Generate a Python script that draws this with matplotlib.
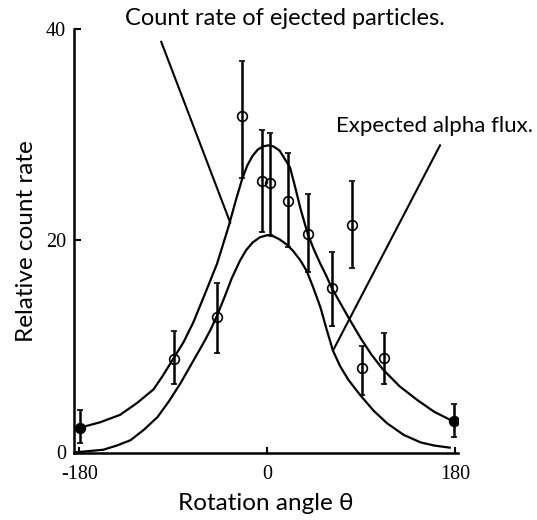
import matplotlib
matplotlib.use("Agg")
import matplotlib.pyplot as plt

# measured points, rotation angle (deg) vs relative count rate
angles = [-179, -89, -48, -24, -5, 3, 20, 39, 81, 62, 91, 112, 179]
rates = [2.3, 8.8, 12.8, 31.8, 25.6, 25.4, 23.7, 20.6, 21.5, 15.5, 7.9, 8.9, 2.9]
rate_lo = [0.85, 6.4, 9.4, 25.9, 20.8, 20.5, 19.4, 17.0, 17.4, 11.9, 5.4, 6.4, 1.4]
rate_hi = [4.0, 11.4, 16.0, 37.0, 30.5, 30.2, 28.3, 24.4, 25.6, 18.9, 10.0, 11.2, 4.5]

# curve: count rate of ejected particles
eject_x = [-179, -160, -141, -125, -109, -100, -90, -80, -71, -61, -48, -37,
           -30, -24, -19, -14, -9, -4, 1, 6, 12, 17, 22, 27, 32, 39, 45, 51,
           57, 62, 70, 78, 90, 100, 111, 127, 144, 160, 178]
eject_y = [2.3, 2.8, 3.5, 4.6, 5.9, 7.2, 8.8, 10.4, 12.2, 14.6, 17.8, 21.3,
           23.8, 25.8, 27.1, 28.0, 28.6, 28.9, 29.0, 28.9, 28.5, 27.7, 26.9,
           25.0, 23.0, 20.6, 19.1, 17.8, 16.6, 15.5, 14.1, 12.7, 10.7, 9.2,
           7.8, 6.2, 4.9, 3.8, 2.9]

# curve: expected alpha flux
alpha_x = [-179, -168, -157, -144, -131, -118, -105, -94, -83, -72, -61, -54,
           -48, -41, -34, -26, -20, -14, -7, 0, 6, 12, 19, 25, 32, 38, 44, 51,
           57, 63, 70, 78, 89, 102, 115, 131, 147, 160, 175]
alpha_y = [0.0, 0.1, 0.2, 0.6, 1.1, 2.1, 3.3, 4.8, 6.5, 8.4, 10.3, 11.6,
           12.9, 14.6, 16.4, 18.1, 19.1, 19.8, 20.3, 20.5, 20.4, 20.1, 19.6,
           19.0, 18.1, 17.1, 15.6, 13.7, 11.6, 9.6, 8.1, 6.8, 5.4, 3.9, 2.7,
           1.6, 0.9, 0.6, 0.4]

x_ticks = [-180, 0, 180]
y_ticks = [0, 20, 40]

fig = plt.figure(figsize=(5.37, 5.2), dpi=100)
ax = fig.add_axes([0.138, 0.129, 0.715, 0.815])

ax.plot(eject_x, eject_y, color="black", lw=1.6)
ax.plot(alpha_x, alpha_y, color="black", lw=1.6)

yerr = [[r - lo for r, lo in zip(rates, rate_lo)],
        [hi - r for r, hi in zip(rates, rate_hi)]]
ax.errorbar(angles, rates, yerr=yerr, fmt="o", mfc="none", mec="black",
            ms=7, mew=1.2, ecolor="black", elinewidth=1.8, capsize=2.5,
            capthick=1.8, color="black")
# the two end points look filled in the original
ax.plot([angles[0], angles[-1]], [rates[0], rates[-1]], "o", color="black", ms=5.5)

# pointer lines from the labels to the curves
ax.plot([-101.5, -35.4], [38.8, 21.7], color="black", lw=1.5)
ax.plot([165.7, 63.2], [29.0, 9.6], color="black", lw=1.5)

lab_font = ["Lato", "DejaVu Sans"]
ax.text(-136, 41.0, "Count rate of ejected particles.", fontsize=17,
        family=lab_font, va="center", ha="left")
ax.text(66, 30.8, "Expected alpha flux.", fontsize=16,
        family=lab_font, va="center", ha="left")

ax.set_xlim(-185, 183)
ax.set_ylim(-0.1, 40)
ax.set_xticks(x_ticks)
ax.set_xticklabels([str(t) for t in x_ticks], family="Liberation Serif", fontsize=14.5)
ax.set_yticks(y_ticks)
ax.set_yticklabels([str(t) for t in y_ticks], family="Liberation Serif", fontsize=14.5)
ax.tick_params(axis="both", direction="in", width=1.5)
ax.tick_params(axis="y", length=5, pad=6)
ax.tick_params(axis="x", length=4, pad=9)

for side in ["top", "right"]:
    ax.spines[side].set_visible(False)
for side in ["left", "bottom"]:
    ax.spines[side].set_linewidth(1.8)

ax.set_xlabel("Rotation angle θ", fontsize=17.5, family=lab_font, labelpad=6)
ax.set_ylabel("Relative count rate", fontsize=17.5, family=lab_font, labelpad=6)

fig.savefig("out.png", dpi=100)
